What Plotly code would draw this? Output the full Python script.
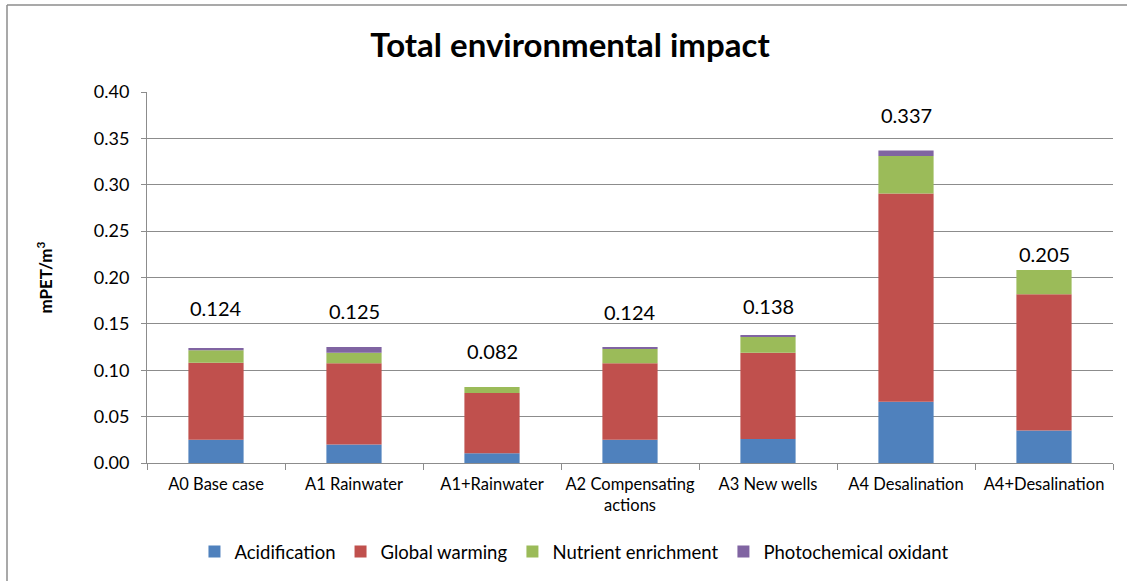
import plotly.graph_objects as go

# Scenario names and impact categories (mPET per m3 of water)
scenarios = ["A0 Base case", "A1 Rainwater", "A1+Rainwater", "A2 Compensating<br>actions",
             "A3 New wells", "A4 Desalination", "A4+Desalination"]
acidification = [0.025, 0.020, 0.0105, 0.025, 0.026, 0.066, 0.035]
global_warming = [0.083, 0.0875, 0.065, 0.0825, 0.093, 0.2245, 0.147]
nutrient_enrichment = [0.0135, 0.0115, 0.0065, 0.0155, 0.017, 0.0405, 0.026]
photochemical_oxidant = [0.0025, 0.006, 0.0, 0.001, 0.002, 0.006, -0.003]
y_ticks = [0.00, 0.05, 0.10, 0.15, 0.20, 0.25, 0.30, 0.35, 0.40]

# pixel offsets of the total labels above each stack
label_shift = [40, 36, 36, 36, 29, 35, 16]

series = [
    ("Acidification", acidification, "#4F81BD"),
    ("Global warming", global_warming, "#C0504D"),
    ("Nutrient enrichment", nutrient_enrichment, "#9BBB59"),
    ("Photochemical oxidant", photochemical_oxidant, "#8064A2"),
]

FONT = "Lato, Open Sans, sans-serif"
GRID = "#8C8C8C"

fig = go.Figure()
for name, vals, color in series:
    fig.add_trace(go.Bar(x=scenarios, y=vals, name=name,
                         marker=dict(color=color, line=dict(width=0))))

totals = [round(a + b + c + d, 3) for a, b, c, d in
          zip(acidification, global_warming, nutrient_enrichment, photochemical_oxidant)]
positive_top = [a + b + c + max(d, 0) for a, b, c, d in
                zip(acidification, global_warming, nutrient_enrichment, photochemical_oxidant)]
for cat, tot, top, shift in zip(scenarios, totals, positive_top, label_shift):
    fig.add_annotation(x=cat, y=top, text=f"{tot:.3f}", showarrow=False,
                       yshift=shift, yanchor="middle",
                       font=dict(family=FONT, size=20, color="#000000"))

fig.update_layout(
    barmode="relative",
    bargap=0.6,
    width=1127, height=581,
    margin=dict(l=147, r=14, t=92, b=118),
    paper_bgcolor="white", plot_bgcolor="white",
    font=dict(family=FONT, size=16.5, color="#000000"),
    title=dict(text="<b>Total environmental impact</b>", x=570 / 1127, xref="container",
               xanchor="center", y=1 - 45 / 581, yref="container", yanchor="middle",
               font=dict(family=FONT, size=33, color="#000000")),
    legend=dict(orientation="h", x=0.442, xanchor="center",
                y=1 - 552 / 581, yref="container", yanchor="middle",
                font=dict(family=FONT, size=18.5, color="#000000"),
                traceorder="normal"),
    xaxis=dict(showline=True, linecolor=GRID, linewidth=1,
               ticks="outside", tickson="boundaries", ticklen=6, tickcolor=GRID,
               ticklabelstandoff=6, tickangle=0, automargin=False,
               tickfont=dict(family=FONT, size=16.5, color="#000000"),
               showgrid=False),
    yaxis=dict(range=[0, 0.40], tickvals=y_ticks, tickformat=".2f",
               showline=True, linecolor=GRID, linewidth=1,
               ticks="outside", ticklen=5, tickcolor=GRID,
               ticklabelstandoff=8, automargin=False,
               showgrid=True, gridcolor=GRID, gridwidth=1,
               zeroline=False,
               tickfont=dict(family=FONT, size=18, color="#000000"),
               title=dict(text="<b>mPET/m<sup>3</sup></b>", standoff=36,
                          font=dict(family=FONT, size=17, color="#000000"))),
)

# chart-area frame along the top and left edges
fig.add_shape(type="line", xref="paper", yref="paper",
              x0=-140 / 966, x1=1.02, y0=1 + 87 / 371, y1=1 + 87 / 371,
              line=dict(color="#8C8C8C", width=1.5))
fig.add_shape(type="line", xref="paper", yref="paper",
              x0=-140 / 966, x1=-140 / 966, y0=1 + 87 / 371, y1=-0.35,
              line=dict(color="#8C8C8C", width=1.5))

fig.write_html("out.html")
